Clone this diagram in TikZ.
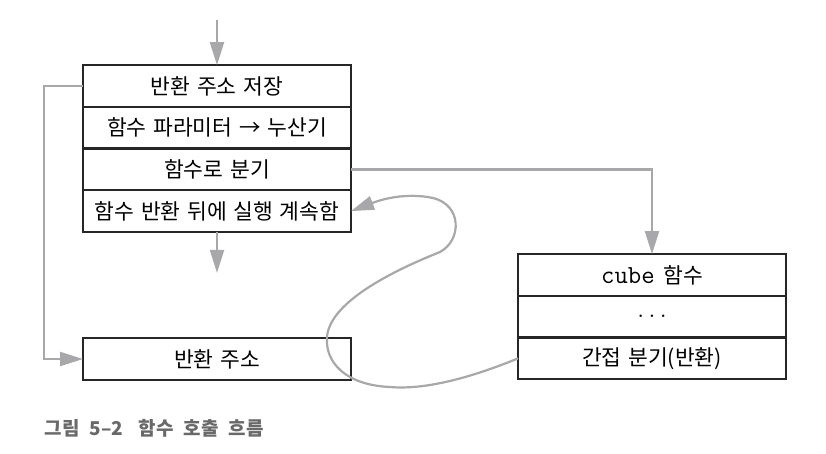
\documentclass[tikz,border=0pt]{standalone}
\usepackage{fontspec}
\setmainfont{Noto Sans CJK KR}[WordSpace=1.4]
\newfontfamily\capfont{Noto Sans CJK KR}[WordSpace=2.3]
\usetikzlibrary{arrows.meta, positioning}
\definecolor{pfeil}{RGB}{168,168,170}
\definecolor{rahmen}{RGB}{38,38,38}
\definecolor{titel}{RGB}{105,105,105}
\tikzset{
  row/.style={draw=rahmen, line width=2.4pt, minimum width=268pt, minimum height=41.7pt,
    inner sep=0pt, outer sep=0pt, font=\fontsize{21.5}{21.5}\selectfont},
  flow/.style={pfeil, line width=2.2pt, -{Triangle[length=23pt, width=14pt]}},
}

\begin{document}
\begin{tikzpicture}[x=1pt, y=-1pt]
    \useasboundingbox (0,0) rectangle (826,453);

    % Aufrufer
    \node[row] (save) at (217,86) {반환 주소 저장};
    \node[row, below=0pt of save] (param) {함수 파라미터 → 누산기};
    \node[row, below=0pt of param] (branch) {함수로 분기};
    \node[row, below=0pt of branch] (cont) {함수 반환 뒤에 실행 계속함};
    \node[row] (ret) at (217,359) {반환 주소};

    % Funktion
    \node[row] (cube) at (652,275) {{\fontsize{26}{26}\selectfont\ttfamily cube}\hspace{0.4em}함수};
    \node[row, below=0pt of cube] (dots) {\fontsize{22}{22}\selectfont\ttfamily ...};
    \node[row, below=0pt of dots] (indir) {간접 분기(반환)};

    \coordinate[above=45pt of save.north] (in);
    \coordinate[below=41pt of cont.south] (out);

    \draw[flow] (in) -- (save.north);
    \draw[flow] (cont.south) -- (out);
    \draw[flow] (save.west) -- ++(-39,0) |- (ret.west);
    \draw[flow] (branch.east) -| (cube.north);
    \draw[flow] (indir.west) .. controls (470,378) and (425,390) .. (390,387)
        .. controls (345,385) and (325,362) .. (327,337)
        .. controls (330,300) and (400,268) .. (440,252)
        .. controls (462,240) and (462,205) .. (433,198)
        .. controls (405,192) and (380,200) .. (cont.east);

    \node[anchor=west, text=titel, font=\capfont\fontsize{19}{19}\selectfont\bfseries] (cap) at (41,428) {그림 5–2\hspace{0.3em} 함수 호출 흐름};

\end{tikzpicture}
\end{document}
